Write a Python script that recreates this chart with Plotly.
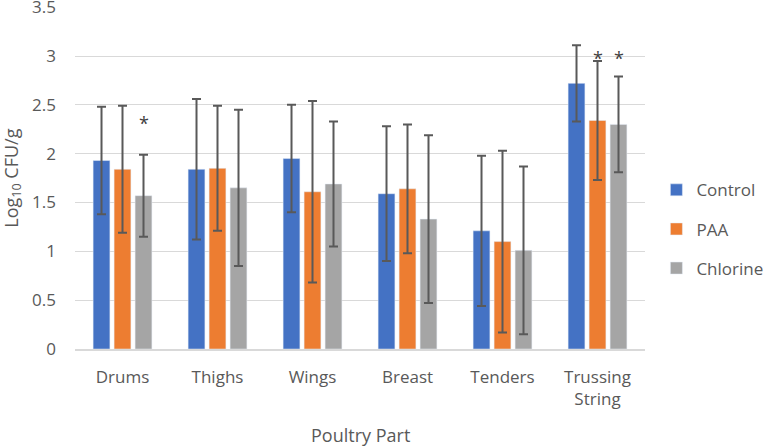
import plotly.graph_objects as go

categories = ["Drums", "Thighs", "Wings", "Breast", "Tenders", "Trussing<br>String"]
control = [1.93, 1.84, 1.95, 1.59, 1.21, 2.72]
control_err = [0.55, 0.72, 0.55, 0.69, 0.77, 0.39]
paa = [1.84, 1.85, 1.61, 1.64, 1.10, 2.34]
paa_err = [0.65, 0.64, 0.93, 0.66, 0.93, 0.61]
chlorine = [1.57, 1.65, 1.69, 1.33, 1.01, 2.30]
chlorine_err = [0.42, 0.80, 0.64, 0.86, 0.86, 0.49]
y_ticks = [0, 0.5, 1, 1.5, 2, 2.5, 3, 3.5]
y_labels = ["0", "0.5", "1", "1.5", "2", "2.5", "3", "3.5"]

# significance markers: (category index, series offset in slots, y)
sig_cat = [0, 5, 5]
sig_slot = [1, 0, 1]
sig_y = [2.33, 3.0, 3.0]

FONT = "Open Sans, sans-serif"
TXT = "#595959"
ERR = "#595959"

fig = go.Figure()
series = [("Control", control, control_err, "#4472C4"),
          ("PAA", paa, paa_err, "#ED7D31"),
          ("Chlorine", chlorine, chlorine_err, "#A5A5A5")]
for name, vals, errs, col in series:
    fig.add_trace(go.Bar(
        name=name, x=categories, y=vals, marker_color=col,
        legendgroup=name,
        error_y=dict(type="data", array=errs, visible=True, color=ERR,
                     thickness=2, width=4.5),
    ))

for ci, sl, yv in zip(sig_cat, sig_slot, sig_y):
    fig.add_annotation(x=categories[ci], y=yv, text="*", showarrow=False,
                       xshift=21 * sl, yshift=-2,
                       font=dict(size=18, color="#404040", family=FONT))

# axis titles as annotations for precise placement
fig.add_annotation(xref="paper", yref="paper", x=0.5, y=-0.252, yanchor="middle",
                   text="Poultry Part", showarrow=False,
                   font=dict(size=18, color=TXT, family=FONT))
fig.add_annotation(xref="paper", yref="paper", x=-0.111, y=0.5, xanchor="center",
                   yanchor="middle", textangle=-90,
                   text="Log<sub>10</sub> CFU/g", showarrow=False,
                   font=dict(size=18, color=TXT, family=FONT))

fig.update_layout(
    width=766, height=446,
    barmode="group", bargap=0.337, bargroupgap=0.2,
    paper_bgcolor="white", plot_bgcolor="white",
    margin=dict(l=75, r=121, t=7, b=97, autoexpand=False),
    font=dict(family=FONT, size=17, color=TXT),
    legend=dict(x=1.02, y=0.35, xanchor="left", yanchor="middle",
                traceorder="grouped", tracegroupgap=14,
                font=dict(size=17, color=TXT), itemwidth=30),
    xaxis=dict(showline=True, linecolor="#D9D9D9", linewidth=1.5, automargin=False,
               ticks="", ticklabelstandoff=12, tickfont=dict(size=17, color=TXT)),
    yaxis=dict(range=[0, 3.502], tickvals=y_ticks, ticktext=y_labels,
               showgrid=True, gridcolor="#D9D9D9", automargin=False,
               gridwidth=1.3, zeroline=False, ticklabelstandoff=18,
               ticklabeloverflow="allow",
               tickfont=dict(size=17, color=TXT)),
    showlegend=True,
)

fig.write_html("out.html", config={"displayModeBar": False},
               post_script="document.body.style.margin='0px';document.body.style.padding='0px';")
